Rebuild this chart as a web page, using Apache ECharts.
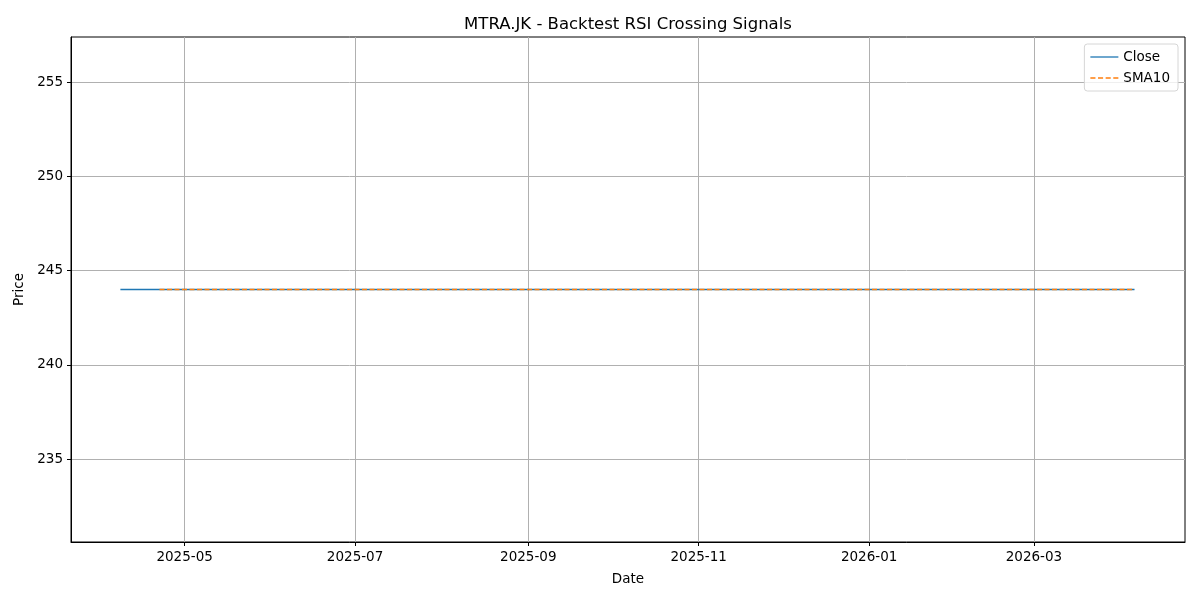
<!DOCTYPE html>
<html>
<head>
<meta charset="utf-8">
<script src="https://cdn.jsdelivr.net/npm/echarts@6/dist/echarts.min.js"></script>
<style>
  html, body { margin: 0; padding: 0; background: #fff; }
  #chart { width: 1200px; height: 600px; }
</style>
</head>
<body>
<div id="chart"></div>
<script>
// price is flat for the whole window, so a handful of dates is enough
const closeDates = ['2025-04-08', '2025-05-02', '2025-06-02', '2025-07-01', '2025-08-01', '2025-09-01',
  '2025-10-01', '2025-11-03', '2025-12-01', '2026-01-02', '2026-02-02', '2026-03-02', '2026-04-06'];
const closeValues = [244, 244, 244, 244, 244, 244, 244, 244, 244, 244, 244, 244, 244];

const smaDates = ['2025-04-22', '2025-05-02', '2025-06-02', '2025-07-01', '2025-08-01', '2025-09-01',
  '2025-10-01', '2025-11-03', '2025-12-01', '2026-01-02', '2026-02-02', '2026-03-02', '2026-04-06'];
const smaValues = [244, 244, 244, 244, 244, 244, 244, 244, 244, 244, 244, 244, 244];

const xTicks = ['2025-05-01', '2025-07-01', '2025-09-01', '2025-11-01', '2026-01-01', '2026-03-01'];
const yTicks = [235, 240, 245, 250, 255];

const FONT = 'DejaVu Sans';
const BLUE = '#1f77b4';
const ORANGE = '#ff7f0e';

const initChart = function () {
  const myChart = echarts.init(document.getElementById('chart'));

  const ts = s => new Date(s + 'T00:00:00').getTime();
  const pad = n => (n < 10 ? '0' : '') + n;
  const HOUR = 3600 * 1000;

  const option = {
    animation: false,
    backgroundColor: '#ffffff',
    color: [BLUE, ORANGE],
    textStyle: { fontFamily: FONT },
    title: {
      text: 'MTRA.JK - Backtest RSI Crossing Signals',
      left: 623, top: 11, textAlign: 'center',
      textStyle: { fontFamily: FONT, fontSize: 16.5, fontWeight: 'normal', color: '#000' }
    },
    legend: {
      right: 22, top: 44,
      orient: 'vertical',
      itemGap: 7,
      itemWidth: 28, itemHeight: 10,
      padding: [6, 8, 6, 6],
      borderColor: '#d6d6d6', borderWidth: 1, borderRadius: 3,
      backgroundColor: 'rgba(255,255,255,0.8)',
      textStyle: { fontFamily: FONT, fontSize: 13.5, color: '#000' },
      data: [
        { name: 'Close', icon: 'path://M0,0 L28,0 L28,1.3 L0,1.3 Z', itemStyle: { color: BLUE } },
        { name: 'SMA10', icon: 'path://M0,0 L5,0 L5,1.3 L0,1.3 Z M7.5,0 L12.5,0 L12.5,1.3 L7.5,1.3 Z M15,0 L20,0 L20,1.3 L15,1.3 Z M22.5,0 L27.5,0 L27.5,1.3 L22.5,1.3 Z',
          itemStyle: { color: ORANGE } }
      ]
    },
    grid: { left: 71, right: 15, top: 37, bottom: 58, containLabel: false,
      show: true, borderColor: '#000', borderWidth: 1 },
    xAxis: {
      type: 'value',
      min: ts('2025-03-21') + 7.7 * HOUR,
      max: ts('2026-04-24') + 1.7 * HOUR,
      name: 'Date', nameLocation: 'middle', nameGap: 30,
      nameTextStyle: { fontFamily: FONT, fontSize: 13.5, color: '#000' },
      axisLine: { show: true, onZero: false, lineStyle: { color: '#000', width: 1 } },
      axisTick: { show: true, length: 4, lineStyle: { color: '#000' }, customValues: xTicks.map(ts) },
      axisLabel: {
        customValues: xTicks.map(ts),
        fontFamily: FONT, fontSize: 13.5, color: '#000', margin: 8,
        formatter: v => { const d = new Date(v); return d.getFullYear() + '-' + pad(d.getMonth() + 1); }
      },
      splitLine: { show: true, lineStyle: { color: '#b0b0b0', width: 1 } }
    },
    yAxis: {
      type: 'value',
      min: 230.6, max: 257.4,
      name: 'Price', nameLocation: 'middle', nameGap: 42,
      nameTextStyle: { fontFamily: FONT, fontSize: 13.5, color: '#000' },
      axisLine: { show: true, onZero: false, lineStyle: { color: '#000', width: 1 } },
      axisTick: { show: true, length: 4, lineStyle: { color: '#000' }, customValues: yTicks },
      axisLabel: { customValues: yTicks, fontFamily: FONT, fontSize: 13.5, color: '#000', margin: 8 },
      splitLine: { show: true, lineStyle: { color: '#b0b0b0', width: 1 } }
    },
    series: [
      {
        name: 'Close', type: 'line', showSymbol: false, color: BLUE,
        data: closeDates.map((d, i) => [ts(d), closeValues[i]]),
        lineStyle: { color: BLUE, width: 1.5 },
        itemStyle: { color: BLUE },
        z: 2
      },
      {
        name: 'SMA10', type: 'line', showSymbol: false, color: ORANGE,
        data: smaDates.map((d, i) => [ts(d), smaValues[i]]),
        lineStyle: { color: ORANGE, width: 1.5, type: [5, 2.5] },
        itemStyle: { color: ORANGE },
        z: 3
      }
    ]
  };

  myChart.setOption(option);
};

window.addEventListener('load', function () {
  initChart();
});
</script>
</body>
</html>
